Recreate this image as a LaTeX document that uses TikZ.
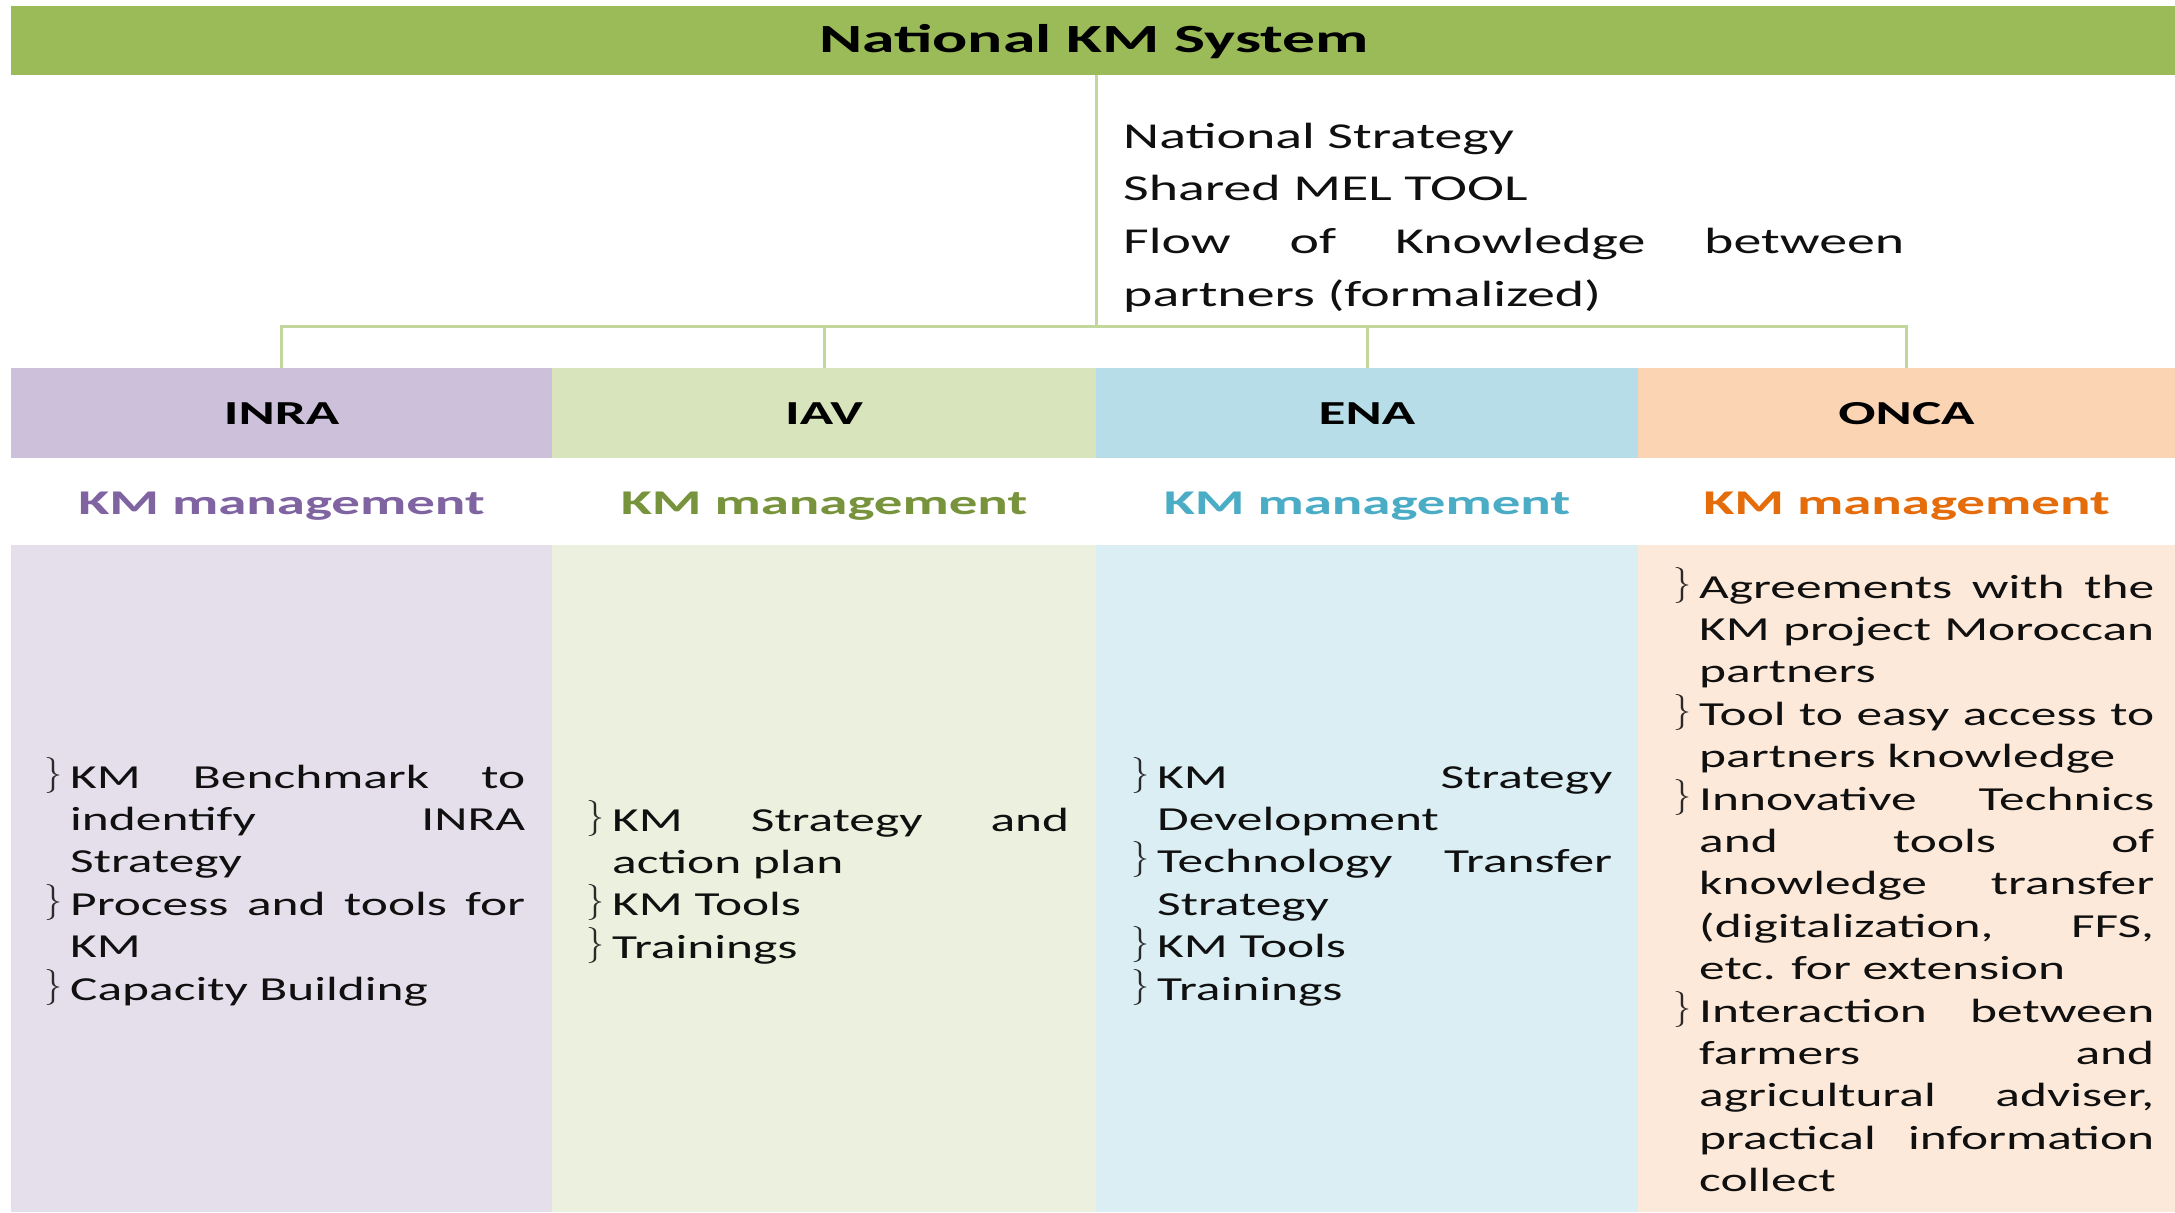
\documentclass[tikz,border=0pt]{standalone}
\usepackage{fontspec}
\newfontfamily\rfnt[FakeStretch=1.53]{Carlito}
\newfontfamily\bfnt[FakeStretch=1.64]{Carlito}
\definecolor{topgreen}{HTML}{9BBB59}
\definecolor{connc}{HTML}{C3D69B}
\definecolor{hpurple}{HTML}{CCC0DA}
\definecolor{hgreen}{HTML}{D7E4BC}
\definecolor{hblue}{HTML}{B7DEE8}
\definecolor{horange}{HTML}{FBD4B4}
\definecolor{bpurple}{HTML}{E5DFEC}
\definecolor{bgreen}{HTML}{EBF1DE}
\definecolor{bblue}{HTML}{DAEEF3}
\definecolor{borange}{HTML}{FDE9D9}
\definecolor{tpurple}{HTML}{8064A2}
\definecolor{tgreen}{HTML}{77933C}
\definecolor{tblue}{HTML}{4BACC6}
\definecolor{torange}{HTML}{E46C0A}
\definecolor{txt}{HTML}{101010}
\definecolor{bulletc}{HTML}{2A2A2A}
\hbadness=10000
\hfuzz=100pt
\newdimen\linew
\newcommand{\bmark}{\raisebox{4pt}{\color{bulletc}\normalfont\fontsize{36}{36}\selectfont\}}}
\newcommand{\JL}[1]{\hbox to \linew{#1}}
\newcommand{\RL}[1]{\hbox to \linew{#1\hfil}}
\newcommand{\BJ}[1]{\hbox to \linew{\llap{\bmark\hskip 8pt}#1}}
\newcommand{\BR}[1]{\hbox to \linew{\llap{\bmark\hskip 8pt}#1\hfil}}
\begin{document}
\begin{tikzpicture}[x=1pt,y=-1pt,
  box/.style={rectangle, inner sep=0pt, outer sep=0pt},
  hdr/.style={box, minimum height=90pt, text height=22pt, text depth=0pt,
    font=\bfnt\bfseries\fontsize{33.6}{40}\selectfont, text=black},
  kmtxt/.style={inner sep=0pt, anchor=base, font=\bfnt\bfseries\fontsize{34.7}{40}\selectfont},
  bodytxt/.style={inner sep=0pt, anchor=base west, text=txt, font=\rfnt\fontsize{33.6}{42.4}\selectfont},
  conn/.style={draw=connc, line width=3pt}]
\useasboundingbox (0,0) rectangle (2175,1212);
\fill[white] (0,0) rectangle (2175,1212);
% top bar
\node[box, fill=topgreen, minimum width=2164pt, minimum height=69pt, anchor=north west] (bar) at (11,6) {};
\node[inner sep=0pt, anchor=base, font=\bfnt\bfseries\fontsize{40}{40}\selectfont] (title) at (1094,53) {National KM System};
% top text
\node[inner sep=0pt, anchor=base west, text=txt, font=\rfnt\fontsize{36.5}{52.7}\selectfont] (nat) at (1123,148)
 {\vtop{\linew=781pt \baselineskip=52.7pt
  \RL{National Strategy}
  \RL{Shared MEL TOOL}
  \JL{Flow of Knowledge between}
  \RL{partners (formalized)}}};
% body fills
\fill[bpurple] (11,545) rectangle (552,1212);
\fill[bgreen] (552,545) rectangle (1096,1212);
\fill[bblue] (1096,545) rectangle (1638,1212);
\fill[borange] (1638,545) rectangle (2175,1212);
% headers
\node[hdr, fill=hpurple, minimum width=541pt] (inra) at (281.5,413) {INRA};
\node[hdr, fill=hgreen, minimum width=544pt] (iav) at (824,413) {IAV};
\node[hdr, fill=hblue, minimum width=542pt] (ena) at (1367,413) {ENA};
\node[hdr, fill=horange, minimum width=537pt] (onca) at (1906.5,413) {ONCA};
% KM management
\node[kmtxt, text=tpurple] (km1) at (281.5,514) {KM management};
\node[kmtxt, text=tgreen] (km2) at (824,514) {KM management};
\node[kmtxt, text=tblue] (km3) at (1367,514) {KM management};
\node[kmtxt, text=torange] (km4) at (1906.5,514) {KM management};
% connectors
\coordinate (hub) at (1096,326);
\draw[conn] (bar.south -| hub) -- (hub);
\draw[conn] (hub) -| (inra.north);
\draw[conn] (hub) -| (iav.north);
\draw[conn] (hub) -| (ena.north);
\draw[conn] (hub) -| (onca.north);
% body texts
\node[bodytxt] (b1) at (70,788)
 {\vtop{\linew=455pt \baselineskip=42.4pt
  \BJ{KM Benchmark to}
  \JL{indentify INRA}
  \RL{Strategy}
  \BJ{Process and tools for}
  \RL{KM}
  \BR{Capacity Building}}};
\node[bodytxt] (b2) at (612,831)
 {\vtop{\linew=457pt \baselineskip=42.4pt
  \BJ{KM Strategy and}
  \RL{action plan}
  \BR{KM Tools}
  \BR{Trainings}}};
\node[bodytxt] (b3) at (1157,788)
 {\vtop{\linew=455pt \baselineskip=42.4pt
  \BJ{KM Strategy}
  \RL{Development}
  \BJ{Technology Transfer}
  \RL{Strategy}
  \BR{KM Tools}
  \BR{Trainings}}};
\node[bodytxt] (b4) at (1699,598)
 {\vtop{\linew=455pt \baselineskip=42.4pt
  \BJ{Agreements with the}
  \JL{KM project Moroccan}
  \RL{partners}
  \BJ{Tool to easy access to}
  \RL{partners knowledge}
  \BJ{Innovative Technics}
  \JL{and tools of}
  \JL{knowledge transfer}
  \JL{(digitalization, FFS,}
  \RL{etc. for extension}
  \BJ{Interaction between}
  \JL{farmers and}
  \JL{agricultural adviser,}
  \JL{practical information}
  \RL{collect}}};
\end{tikzpicture}
\end{document}
